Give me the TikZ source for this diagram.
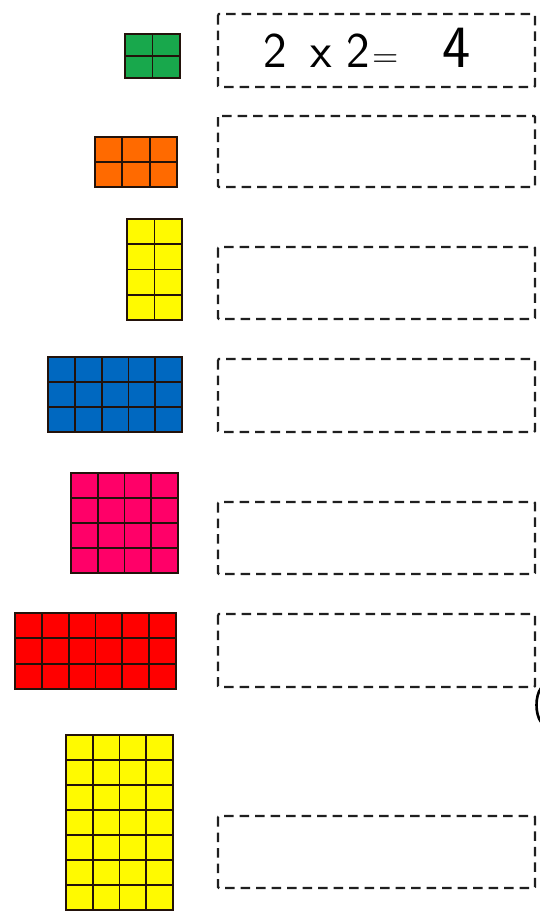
\documentclass[tikz,border=0pt]{standalone}
\usepackage{fontspec}
\definecolor{tgreen}{RGB}{24,168,76}
\definecolor{torange}{RGB}{255,106,0}
\definecolor{tyellow}{RGB}{255,250,0}
\definecolor{tblue}{RGB}{0,104,192}
\definecolor{tpink}{RGB}{255,0,104}
\definecolor{tred}{RGB}{255,0,0}
\definecolor{gridink}{RGB}{35,18,10}
\newcommand\tilegrid[7]{%
  \fill[#7] (#1,#2) rectangle (#3,#4);
  \foreach \i in {0,...,#5}{\draw[gridline] ({#1+(#3-#1)*\i/#5},#2) -- ({#1+(#3-#1)*\i/#5},#4);}
  \foreach \j in {0,...,#6}{\draw[gridline] (#1,{#2+(#4-#2)*\j/#6}) -- (#3,{#2+(#4-#2)*\j/#6});}
}
\begin{document}
\begin{tikzpicture}[x=1pt,y=-1pt,
  gridline/.style={draw=gridink,line width=1.8pt,line cap=rect},
  ansbox/.style={draw=black!88,line width=2.3pt,dash pattern=on 9.5pt off 6pt,rounded corners=1pt},
  eqtext/.style={font=\sffamily\fontsize{50}{52}\selectfont,inner sep=0pt,anchor=base west}]
\useasboundingbox[fill=white] (0,0) rectangle (540,911);
% tiles
\tilegrid{125}{34}{180}{78}{2}{2}{tgreen}
\tilegrid{95}{137}{177}{187}{3}{2}{torange}
\tilegrid{127}{219}{182}{320}{2}{4}{tyellow}
\tilegrid{48}{357}{182}{432}{5}{3}{tblue}
\tilegrid{71}{473}{178}{573}{4}{4}{tpink}
\tilegrid{15}{613}{176}{689}{6}{3}{tred}
\tilegrid{66}{735}{173}{910}{4}{7}{tyellow}
% answer boxes
\draw[ansbox] (218,14) rectangle (535,87);
\draw[ansbox] (218,116) rectangle (535,187);
\draw[ansbox] (218,247) rectangle (535,319);
\draw[ansbox] (218,359) rectangle (535,432);
\draw[ansbox] (218,502) rectangle (535,574);
\draw[ansbox] (218,614) rectangle (535,687);
\draw[ansbox] (218,816) rectangle (535,888);
% text
\node[eqtext] (eq) at (263,67) {2\hspace{24pt}x\hspace{14pt}2\hspace{3pt}{\fontsize{36}{36}\selectfont=}};
\node[eqtext,font=\sffamily\fontsize{60}{62}\selectfont] (ans) at (442,67) {4};
% cut-off mark at the right edge
\draw[line width=2.6pt,black] (541,688) .. controls (535,696) and (535,714) .. (541,722);
\end{tikzpicture}
\end{document}
